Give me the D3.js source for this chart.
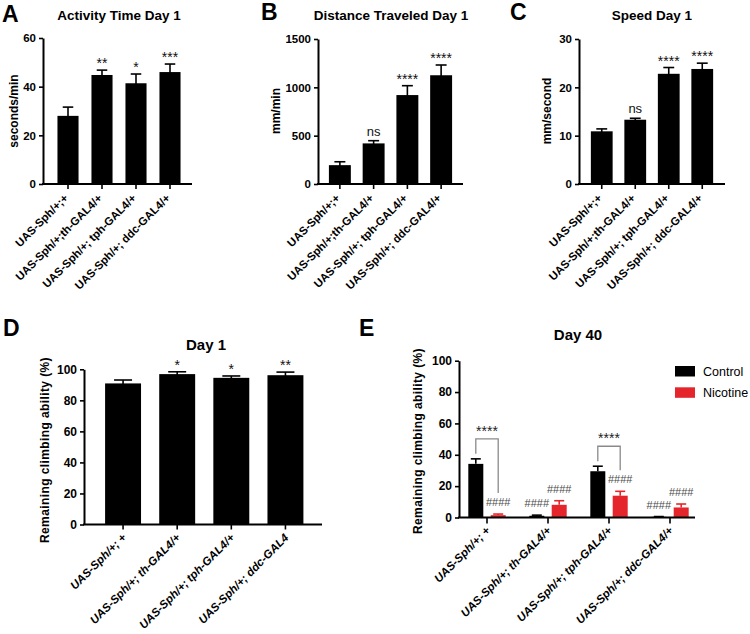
<!DOCTYPE html>
<html><head><meta charset="utf-8">
<script src="https://cdn.jsdelivr.net/npm/d3@7"></script>
<style>
body{margin:0;background:#fff}
svg{display:block;font-family:"Liberation Sans",Arial,Helvetica,sans-serif}
</style>
</head><body>
<svg id="c" width="750" height="634"></svg>
<script>
// ---------------- DATA ----------------
const genotypesABC = ["UAS-Sph/+;+", "UAS-Sph/+;th-GAL4/+", "UAS-Sph/+; tph-GAL4/+", "UAS-Sph/+; ddc-GAL4/+"];
const genotypesD = ["UAS-Sph/+; +", "UAS-Sph/+; th-GAL4/+", "UAS-Sph/+; tph-GAL4/+", "UAS-Sph/+; ddc-GAL4"];
const genotypesE = ["UAS-Sph/+; +", "UAS-Sph/+; th-GAL4/+", "UAS-Sph/+; tph-GAL4/+", "UAS-Sph/+; ddc-GAL4/+"];

const activityMean = [28, 44.8, 41.4, 46];
const activitySem = [3.6, 2.0, 3.8, 3.3];
const activitySig = ["", "**", "*", "***"];
const activityTicks = [0, 20, 40, 60];

const distanceMean = [195, 420, 920, 1125];
const distanceSem = [35, 28, 97, 106];
const distanceSig = ["", "ns", "****", "****"];
const distanceTicks = [0, 500, 1000, 1500];

const speedMean = [10.9, 13.3, 22.8, 23.8];
const speedSem = [0.5, 0.3, 1.3, 1.2];
const speedSig = ["", "ns", "****", "****"];
const speedTicks = [0, 10, 20, 30];

const climbDay1Mean = [90.9, 96.9, 94.5, 96.2];
const climbDay1Sem = [2.2, 1.5, 1.2, 2.0];
const climbDay1Sig = ["", "*", "*", "**"];
const climbTicks = [0, 20, 40, 60, 80, 100];

const day40Series = ["Control", "Nicotine"];
const day40ControlMean = [34.2, 1.1, 29.5, 0.4];
const day40ControlSem = [3.2, 0.4, 3.2, 0.2];
const day40NicotineMean = [1.5, 8.1, 13.9, 6.4];
const day40NicotineSem = [0.7, 2.6, 2.8, 2.2];
const day40ControlHash = ["", "####", "", "####"];
const day40NicotineHash = ["####", "####", "####", "####"];
const day40Brackets = [0, 2];          // groups with Control vs Nicotine comparison
const day40BracketSig = ["****", "****"];

// ---------------- DRAW ----------------
const svg = d3.select("#c");
svg.append("rect").attr("width", 750).attr("height", 634).attr("fill", "#fff");

function styleYAxis(sel, fs) {
  sel.select(".domain").attr("stroke", "#000").attr("stroke-width", 2);
  sel.selectAll(".tick line").attr("stroke", "#000").attr("stroke-width", 1.6);
  sel.selectAll(".tick text").attr("fill", "#000").attr("font-size", fs).attr("font-weight", "bold")
     .attr("font-family", "'Liberation Sans',Arial,sans-serif");
}

function letter(txt, x, y) {
  svg.append("text").attr("x", x).attr("y", y).attr("font-size", 23).attr("font-weight", "bold").text(txt);
}
function title(txt, x, y, fs) {
  svg.append("text").attr("x", x).attr("y", y).attr("text-anchor", "middle")
    .attr("font-size", fs).attr("font-weight", "bold").text(txt);
}
function yLabel(txt, x, y, fs, ls) {
  svg.append("text").attr("transform", `translate(${x},${y}) rotate(-90)`).attr("dy", "0.35em")
    .attr("text-anchor", "middle").attr("font-size", fs).attr("font-weight", "bold")
    .attr("letter-spacing", ls || 0).text(txt);
}

function simplePanel(o) {
  const g = svg.append("g");
  const x = d3.scaleBand().domain(o.cats).range(o.xr).paddingInner(o.pad).paddingOuter(o.pad / 2);
  const y = d3.scaleLinear().domain([0, o.ticks[o.ticks.length - 1]]).range([o.y0, o.yTop]);
  const bw = x.bandwidth();
  g.selectAll("rect.bar").data(o.cats).join("rect").attr("class", "bar")
    .attr("x", d => x(d)).attr("width", bw)
    .attr("y", (d, i) => y(o.mean[i])).attr("height", (d, i) => o.y0 - y(o.mean[i]))
    .attr("fill", "#000");
  o.cats.forEach((d, i) => {
    const cx = x(d) + bw / 2, t = y(o.mean[i] + o.sem[i]), b = y(o.mean[i]);
    g.append("line").attr("x1", cx).attr("x2", cx).attr("y1", b + 1).attr("y2", t)
      .attr("stroke", "#000").attr("stroke-width", 1.6);
    g.append("line").attr("x1", cx - bw * o.cap).attr("x2", cx + bw * o.cap).attr("y1", t).attr("y2", t)
      .attr("stroke", "#000").attr("stroke-width", 1.6);
    const s = o.sig[i];
    if (s) {
      const isNs = s === "ns";
      g.append("text").attr("x", cx).attr("y", t - (isNs ? 5 : 2)).attr("text-anchor", "middle")
        .attr("font-size", isNs ? 13 : 14).attr("fill", "#111").text(s);
    }
  });
  const ya = g.append("g").attr("transform", `translate(${o.axisX},0)`)
    .call(d3.axisLeft(y).tickValues(o.ticks).tickSize(4).tickSizeOuter(0).tickPadding(3).tickFormat(d3.format("d")));
  styleYAxis(ya, o.tfs);
  const xa = g.append("g").attr("transform", `translate(0,${o.y0})`)
    .call(d3.axisBottom(x).tickSize(5).tickSizeOuter(0));
  xa.select(".domain").remove();
  xa.selectAll(".tick line").attr("stroke", "#000").attr("stroke-width", 1.6);
  xa.selectAll(".tick text").attr("x", 0).attr("y", 0).attr("dy", "0.35em")
    .attr("transform", `translate(${o.lx},${o.ly}) rotate(-45)`).attr("text-anchor", "end")
    .attr("fill", "#000").attr("font-size", o.lfs).attr("font-weight", "bold")
    .attr("font-style", o.italic ? "italic" : "normal")
    .attr("font-family", "'Liberation Sans',Arial,sans-serif");
  g.append("line").attr("x1", o.axisX - 1).attr("x2", o.xEnd).attr("y1", o.y0).attr("y2", o.y0)
    .attr("stroke", "#000").attr("stroke-width", 2);
}

// Panel A
letter("A", 2, 21.5);
title("Activity Time Day 1", 119, 20, 13.5);
yLabel("seconds/min", 13.5, 111, 12);
simplePanel({cats: genotypesABC, mean: activityMean, sem: activitySem, sig: activitySig, ticks: activityTicks,
  xr: [51, 187], pad: 0.38, axisX: 43, xEnd: 192, y0: 184, yTop: 38, cap: 0.25, tfs: 11.5, lfs: 11.3, lx: -2, ly: 12});

// Panel B
letter("B", 261, 20);
title("Distance Traveled Day 1", 391, 20, 13.5);
yLabel("mm/min", 276, 111, 12);
simplePanel({cats: genotypesABC, mean: distanceMean, sem: distanceSem, sig: distanceSig, ticks: distanceTicks,
  xr: [323, 458], pad: 0.35, axisX: 318, xEnd: 463, y0: 184, yTop: 39, cap: 0.25, tfs: 11.5, lfs: 11.3, lx: -2, ly: 12});

// Panel C
letter("C", 510, 20);
title("Speed Day 1", 652, 20, 13.5);
yLabel("mm/second", 547, 111, 12);
simplePanel({cats: genotypesABC, mean: speedMean, sem: speedSem, sig: speedSig, ticks: speedTicks,
  xr: [585, 719], pad: 0.35, axisX: 579, xEnd: 725, y0: 184, yTop: 39, cap: 0.25, tfs: 11.5, lfs: 11.3, lx: -2, ly: 12});

// Panel D
letter("D", 3, 336);
title("Day 1", 206, 350, 15);
yLabel("Remaining climbing ability (%)", 45, 450, 12, 0.4);
simplePanel({cats: genotypesD, mean: climbDay1Mean, sem: climbDay1Sem, sig: climbDay1Sig, ticks: climbTicks,
  xr: [96, 312.5], pad: 0.336, axisX: 84, xEnd: 322, y0: 524.5, yTop: 369.3, cap: 0.25, tfs: 12, lfs: 11.5, italic: true, lx: 1, ly: 11});

// Panel E
letter("E", 359, 336);
title("Day 40", 578, 340, 15);
yLabel("Remaining climbing ability (%)", 418, 441, 12, 0.4);
(function () {
  const axisX = 459, xEnd = 695, y0 = 517.5, yTop = 360.7;
  const g = svg.append("g");
  const x0 = d3.scaleBand().domain(genotypesE).range([456.5, 700.5]).paddingInner(0.387).paddingOuter(0.1935);
  const x1 = d3.scaleBand().domain(day40Series).range([0, x0.bandwidth()]).paddingInner(0.33).paddingOuter(0);
  const y = d3.scaleLinear().domain([0, 100]).range([y0, yTop]);
  const color = d3.scaleOrdinal().domain(day40Series).range(["#000000", "#e4262c"]);
  const means = {Control: day40ControlMean, Nicotine: day40NicotineMean};
  const sems = {Control: day40ControlSem, Nicotine: day40NicotineSem};
  const hashes = {Control: day40ControlHash, Nicotine: day40NicotineHash};
  const bw = x1.bandwidth();
  genotypesE.forEach((gname, i) => {
    day40Series.forEach(s => {
      const bx = x0(gname) + x1(s), m = means[s][i], e = sems[s][i];
      const cx = bx + bw / 2, t = y(m + e);
      g.append("rect").attr("x", bx).attr("width", bw).attr("y", y(m)).attr("height", y0 - y(m)).attr("fill", color(s));
      g.append("line").attr("x1", cx).attr("x2", cx).attr("y1", y(m)).attr("y2", t).attr("stroke", color(s)).attr("stroke-width", 1.6);
      g.append("line").attr("x1", cx - 5).attr("x2", cx + 5).attr("y1", t).attr("y2", t).attr("stroke", color(s)).attr("stroke-width", 1.6);
      const h = hashes[s][i];
      if (h) g.append("text").attr("x", cx).attr("y", t - 8).attr("text-anchor", "middle")
        .attr("font-size", 11).attr("fill", "#4a4a4a").text(h);
    });
  });
  day40Brackets.forEach((gi, k) => {
    const gname = genotypesE[gi];
    const cxC = x0(gname) + x1("Control") + bw / 2, cxN = x0(gname) + x1("Nicotine") + bw / 2;
    const tC = y(day40ControlMean[gi] + day40ControlSem[gi]);
    const tN = y(day40NicotineMean[gi] + day40NicotineSem[gi]);
    const top = tC - 20;
    g.append("path").attr("d", `M${cxC},${tC - 5}V${top}H${cxN}V${tN - 21}`)
      .attr("fill", "none").attr("stroke", "#8a8a8a").attr("stroke-width", 1.3);
    g.append("text").attr("x", (cxC + cxN) / 2).attr("y", top - 3).attr("text-anchor", "middle")
      .attr("font-size", 14).attr("fill", "#222").text(day40BracketSig[k]);
  });
  const ya = g.append("g").attr("transform", `translate(${axisX},0)`)
    .call(d3.axisLeft(y).tickValues(climbTicks).tickSize(4).tickSizeOuter(0).tickPadding(3));
  styleYAxis(ya, 12);
  const xa = g.append("g").attr("transform", `translate(0,${y0})`)
    .call(d3.axisBottom(x0).tickSize(6).tickSizeOuter(0));
  xa.select(".domain").remove();
  xa.selectAll(".tick line").attr("stroke", "#000").attr("stroke-width", 1.6);
  xa.selectAll(".tick text").attr("x", 0).attr("y", 0).attr("dy", "0.35em")
    .attr("transform", "translate(1,11) rotate(-45)").attr("text-anchor", "end")
    .attr("fill", "#000").attr("font-size", 11.5).attr("font-weight", "bold").attr("font-style", "italic")
    .attr("font-family", "'Liberation Sans',Arial,sans-serif");
  g.append("line").attr("x1", axisX - 1).attr("x2", xEnd).attr("y1", y0).attr("y2", y0)
    .attr("stroke", "#000").attr("stroke-width", 2);
  const lg = g.append("g");
  day40Series.forEach((s, i) => {
    lg.append("rect").attr("x", 675).attr("y", 366 + i * 21.3).attr("width", 20).attr("height", 10.5).attr("fill", color(s));
    lg.append("text").attr("x", 703).attr("y", 371.3 + i * 21.3).attr("dy", "0.35em")
      .attr("font-size", 12.5).attr("fill", "#000").text(s);
  });
})();
</script>
</body></html>
